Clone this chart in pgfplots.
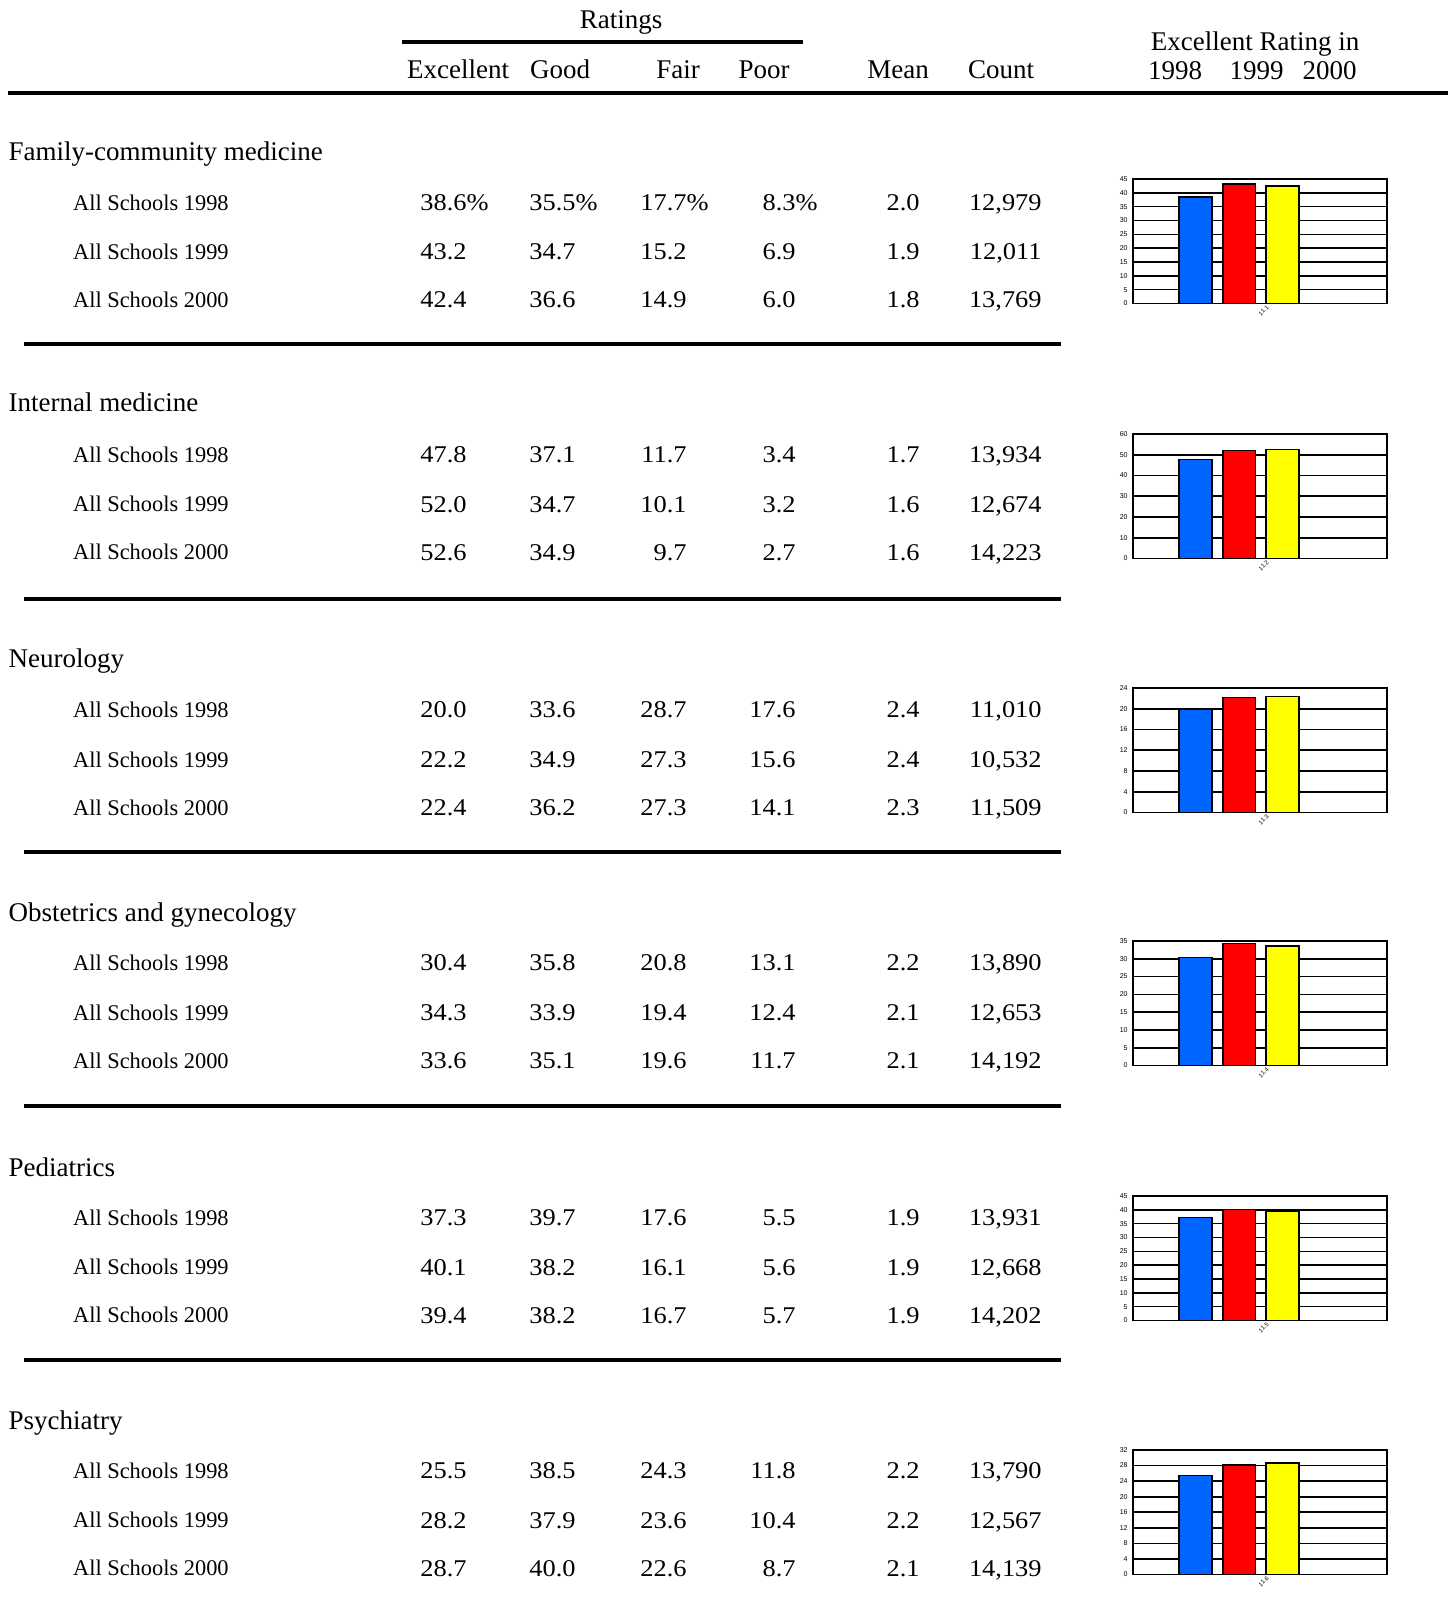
\documentclass[border=0pt]{standalone}
\usepackage{pgfplots}
\pgfplotsset{compat=1.18}
\usepackage{fontspec}
\setmainfont{Liberation Serif}
\newfontfamily\numfont[FakeStretch=1.1]{Liberation Serif}
\newfontfamily\tickfont{Liberation Sans}
\definecolor{barblue}{RGB}{0,102,255}
\definecolor{barred}{RGB}{255,0,0}
\definecolor{baryellow}{RGB}{255,255,0}

\newcommand\hdr{\fontsize{13.5}{16}\selectfont}
\newcommand\lbl{\fontsize{11.2}{14}\selectfont}
\newcommand\num{\numfont\fontsize{12}{14}\selectfont}

% \datarow{baseline}{label}{exc}{good}{fair}{poor}{mean}{count}
\newcommand\datarow[8]{%
  \node[anchor=base west,font=\lbl,inner sep=0pt] at (72.7,#1-2.5) {#2};
  \node[anchor=base east,font=\num,inner sep=0pt] at (467,#1-2) {#3};
  \node[anchor=base east,font=\num,inner sep=0pt] at (576,#1-2) {#4};
  \node[anchor=base east,font=\num,inner sep=0pt] at (687,#1-2) {#5};
  \node[anchor=base east,font=\num,inner sep=0pt] at (796,#1-2) {#6};
  \node[anchor=base east,font=\num,inner sep=0pt] at (920,#1-2) {#7};
  \node[anchor=base east,font=\num,inner sep=0pt] at (1042,#1-2) {#8};
}
\newcommand\pct{\rlap{\%}}

\pgfplotsset{minichart/.style={
  scale only axis, width=127pt, height=62.25pt, anchor=north west,
  xmin=-0.437, xmax=5.402, ymin=0,
  axis line style={line width=0.8pt},
  ymajorgrids, grid style={black, line width=0.8pt},
  major tick length=0pt,
  /pgf/number format/assume math mode=true,
  yticklabel style={font=\tickfont\fontsize{3.5}{4}\selectfont, inner sep=0pt, xshift=-2.5pt},
  xtick={2.6},
  xticklabel style={font=\tickfont\fontsize{3}{3.5}\selectfont, rotate=45, anchor=east, inner sep=0pt, yshift=-2pt},
  every axis plot/.append style={ybar, bar width=0.75, bar shift=0pt, draw=black, line width=0.8pt},
}}

\begin{document}
\begin{tikzpicture}
\begin{scope}[x=0.5pt,y=-0.5pt]
\useasboundingbox (0,0) rectangle (1448,1610);
% header
\node[anchor=base,font=\hdr,inner sep=0pt] at (621,28.3) {Ratings};
\draw[line width=2pt] (402,42) -- (803,42);
\node[anchor=base,font=\hdr,inner sep=0pt] at (458,79) {Excellent};
\node[anchor=base,font=\hdr,inner sep=0pt] at (560,79) {Good};
\node[anchor=base,font=\hdr,inner sep=0pt] at (678,79) {Fair};
\node[anchor=base,font=\hdr,inner sep=0pt] at (764,79) {Poor};
\node[anchor=base,font=\hdr,inner sep=0pt] at (898,79) {Mean};
\node[anchor=base,font=\hdr,inner sep=0pt] at (1001,79) {Count};
\node[anchor=base,font=\hdr,inner sep=0pt] at (1255,51) {Excellent Rating in};
\node[anchor=base,font=\hdr,inner sep=0pt] at (1175,79.5) {1998};
\node[anchor=base,font=\hdr,inner sep=0pt] at (1256.5,79.5) {1999};
\node[anchor=base,font=\hdr,inner sep=0pt] at (1329.5,79.5) {2000};
\draw[line width=2.2pt] (8,92.8) -- (1448,92.8);

% section 1
\node[anchor=base west,font=\hdr,inner sep=0pt] at (8.3,160.7) {Family-community medicine};
\datarow{212.7}{All Schools 1998}{38.6\pct}{35.5\pct}{17.7\pct}{8.3\pct}{2.0}{12,979}
\datarow{261.7}{All Schools 1999}{43.2}{34.7}{15.2}{6.9}{1.9}{12,011}
\datarow{310}{All Schools 2000}{42.4}{36.6}{14.9}{6.0}{1.8}{13,769}
\draw[line width=2pt] (24,344) -- (1061,344);

% section 2
\node[anchor=base west,font=\hdr,inner sep=0pt] at (8.3,411.7) {Internal medicine};
\datarow{464.5}{All Schools 1998}{47.8}{37.1}{11.7}{3.4}{1.7}{13,934}
\datarow{514}{All Schools 1999}{52.0}{34.7}{10.1}{3.2}{1.6}{12,674}
\datarow{562}{All Schools 2000}{52.6}{34.9}{9.7}{2.7}{1.6}{14,223}
\draw[line width=2pt] (24,598.7) -- (1061,598.7);

% section 3
\node[anchor=base west,font=\hdr,inner sep=0pt] at (8.3,667) {Neurology};
\datarow{719.5}{All Schools 1998}{20.0}{33.6}{28.7}{17.6}{2.4}{11,010}
\datarow{769.5}{All Schools 1999}{22.2}{34.9}{27.3}{15.6}{2.4}{10,532}
\datarow{817.5}{All Schools 2000}{22.4}{36.2}{27.3}{14.1}{2.3}{11,509}
\draw[line width=2pt] (24,852.4) -- (1061,852.4);

% section 4
\node[anchor=base west,font=\hdr,inner sep=0pt] at (8.3,921.7) {Obstetrics and gynecology};
\datarow{972.5}{All Schools 1998}{30.4}{35.8}{20.8}{13.1}{2.2}{13,890}
\datarow{1022.5}{All Schools 1999}{34.3}{33.9}{19.4}{12.4}{2.1}{12,653}
\datarow{1070.5}{All Schools 2000}{33.6}{35.1}{19.6}{11.7}{2.1}{14,192}
\draw[line width=2pt] (24,1106) -- (1061,1106);

% section 5
\node[anchor=base west,font=\hdr,inner sep=0pt] at (8.3,1176.4) {Pediatrics};
\datarow{1227.5}{All Schools 1998}{37.3}{39.7}{17.6}{5.5}{1.9}{13,931}
\datarow{1277}{All Schools 1999}{40.1}{38.2}{16.1}{5.6}{1.9}{12,668}
\datarow{1325}{All Schools 2000}{39.4}{38.2}{16.7}{5.7}{1.9}{14,202}
\draw[line width=2pt] (24,1359.7) -- (1061,1359.7);

% section 6
\node[anchor=base west,font=\hdr,inner sep=0pt] at (8.3,1429) {Psychiatry};
\datarow{1480.5}{All Schools 1998}{25.5}{38.5}{24.3}{11.8}{2.2}{13,790}
\datarow{1530}{All Schools 1999}{28.2}{37.9}{23.6}{10.4}{2.2}{12,567}
\datarow{1578}{All Schools 2000}{28.7}{40.0}{22.6}{8.7}{2.1}{14,139}

\coordinate (c1) at (1133,179);
\coordinate (c2) at (1133,434);
\coordinate (c3) at (1133,688);
\coordinate (c4) at (1133,941);
\coordinate (c5) at (1133,1196);
\coordinate (c6) at (1133,1450);
\end{scope}

\begin{axis}[minichart, at={(c1)}, ymax=45, ytick={0,5,...,45}, xticklabels={11.1}]
\addplot[fill=barblue] coordinates {(1,38.6)};
\addplot[fill=barred] coordinates {(2,43.2)};
\addplot[fill=baryellow] coordinates {(3,42.4)};
\end{axis}
\begin{axis}[minichart, at={(c2)}, ymax=60, ytick={0,10,...,60}, xticklabels={11.2}]
\addplot[fill=barblue] coordinates {(1,47.8)};
\addplot[fill=barred] coordinates {(2,52.0)};
\addplot[fill=baryellow] coordinates {(3,52.6)};
\end{axis}
\begin{axis}[minichart, at={(c3)}, ymax=24, ytick={0,4,...,24}, xticklabels={11.3}]
\addplot[fill=barblue] coordinates {(1,20.0)};
\addplot[fill=barred] coordinates {(2,22.2)};
\addplot[fill=baryellow] coordinates {(3,22.4)};
\end{axis}
\begin{axis}[minichart, at={(c4)}, ymax=35, ytick={0,5,...,35}, xticklabels={11.4}]
\addplot[fill=barblue] coordinates {(1,30.4)};
\addplot[fill=barred] coordinates {(2,34.3)};
\addplot[fill=baryellow] coordinates {(3,33.6)};
\end{axis}
\begin{axis}[minichart, at={(c5)}, ymax=45, ytick={0,5,...,45}, xticklabels={11.5}]
\addplot[fill=barblue] coordinates {(1,37.3)};
\addplot[fill=barred] coordinates {(2,40.1)};
\addplot[fill=baryellow] coordinates {(3,39.4)};
\end{axis}
\begin{axis}[minichart, at={(c6)}, ymax=32, ytick={0,4,...,32}, xticklabels={11.6}]
\addplot[fill=barblue] coordinates {(1,25.5)};
\addplot[fill=barred] coordinates {(2,28.2)};
\addplot[fill=baryellow] coordinates {(3,28.7)};
\end{axis}
\end{tikzpicture}
\end{document}
